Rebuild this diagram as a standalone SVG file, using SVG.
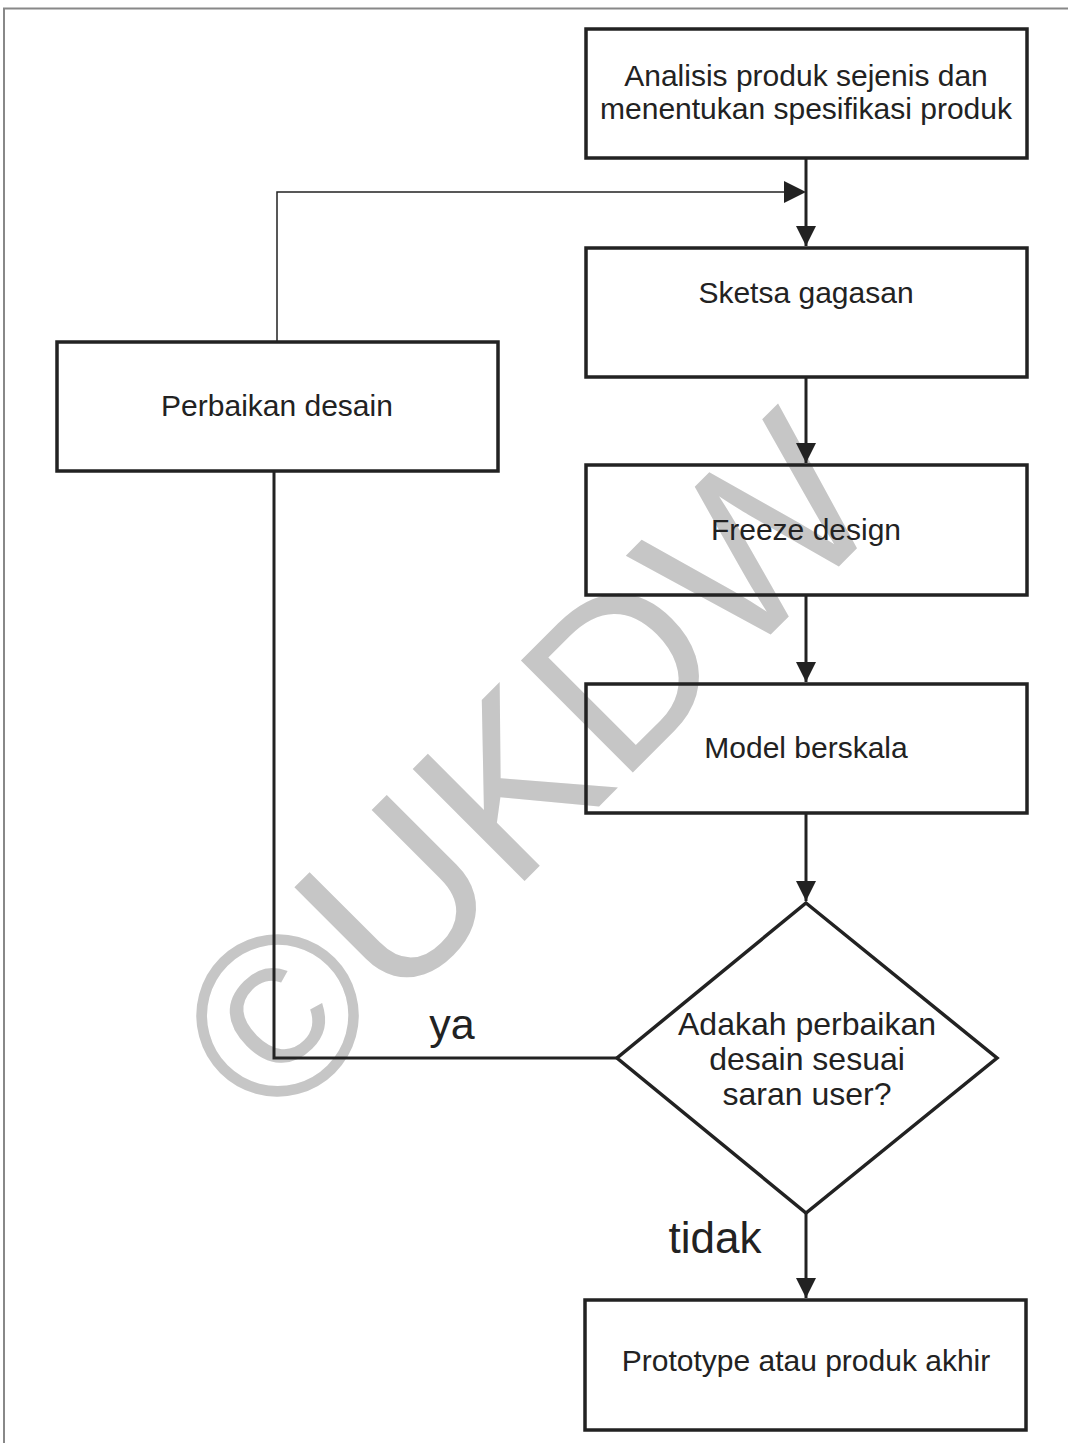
<svg xmlns="http://www.w3.org/2000/svg" width="1068" height="1443" viewBox="0 0 1068 1443">
<defs>
<style>
.box{fill:none;stroke:#222;stroke-width:3.5}
.t{font-family:"Liberation Sans",Arial,sans-serif;font-size:30px;fill:#222;text-anchor:middle}
.d{font-family:"Liberation Sans",Arial,sans-serif;font-size:32px;fill:#222;text-anchor:middle}
.lbl{font-family:"Liberation Sans",Arial,sans-serif;fill:#222;text-anchor:middle}
.c{fill:none;stroke:#222;stroke-width:3}
.cthin{fill:none;stroke:#222;stroke-width:1.5}
</style>
<marker id="ah" viewBox="0 0 20 20" refX="20" refY="10" markerWidth="20" markerHeight="20" markerUnits="userSpaceOnUse" orient="auto">
<path d="M0,0 L20,10 L0,20 Z" fill="#222"/>
</marker>
</defs>
<rect x="0" y="0" width="1068" height="1443" fill="#fff"/>
<path d="M4,1443 V8.5 H1068" fill="none" stroke="#888" stroke-width="2"/>
<text x="526" y="767" font-family="Liberation Sans,Arial,sans-serif" font-size="230" fill="#c6c6c6" text-anchor="middle" dominant-baseline="central" transform="rotate(-45 526 767)">©UKDW</text>
<g id="connectors">
<path class="c" d="M806,158 V246" marker-end="url(#ah)"/>
<path class="cthin" d="M277,342 V192 H784"/>
<path d="M784,181 L806,192 L784,203 Z" fill="#222"/>
<path class="c" d="M806,377 V463" marker-end="url(#ah)"/>
<path class="c" d="M806,595 V682" marker-end="url(#ah)"/>
<path class="c" d="M806,813 V901" marker-end="url(#ah)"/>
<path class="c" d="M617,1058 H274 V471"/>
<path class="c" d="M806,1213 V1298" marker-end="url(#ah)"/>
</g>
<g id="n1"><rect class="box" x="586" y="29" width="441" height="129"/>
<text class="t" x="806" y="86">Analisis produk sejenis dan</text>
<text class="t" x="806" y="119">menentukan spesifikasi produk</text></g>
<g id="n2"><rect class="box" x="586" y="248" width="441" height="129"/>
<text class="t" x="806" y="303">Sketsa gagasan</text></g>
<g id="n3"><rect class="box" x="586" y="465" width="441" height="130"/>
<text class="t" x="806" y="540">Freeze design</text></g>
<g id="n4"><rect class="box" x="586" y="684" width="441" height="129"/>
<text class="t" x="806" y="758">Model berskala</text></g>
<g id="n5"><rect class="box" x="57" y="342" width="441" height="129"/>
<text class="t" x="277" y="416">Perbaikan desain</text></g>
<g id="n6"><path class="box" d="M806,903 L997,1058 L806,1213 L617,1058 Z"/>
<text class="d" x="807" y="1035">Adakah perbaikan</text>
<text class="d" x="807" y="1070">desain sesuai</text>
<text class="d" x="807" y="1105">saran user?</text></g>
<g id="n7"><rect class="box" x="585" y="1300" width="441" height="130"/>
<text class="t" x="806" y="1371">Prototype atau produk akhir</text></g>
<text class="lbl" x="452" y="1039" font-size="43">ya</text>
<text class="lbl" x="715" y="1253" font-size="44">tidak</text>
</svg>
